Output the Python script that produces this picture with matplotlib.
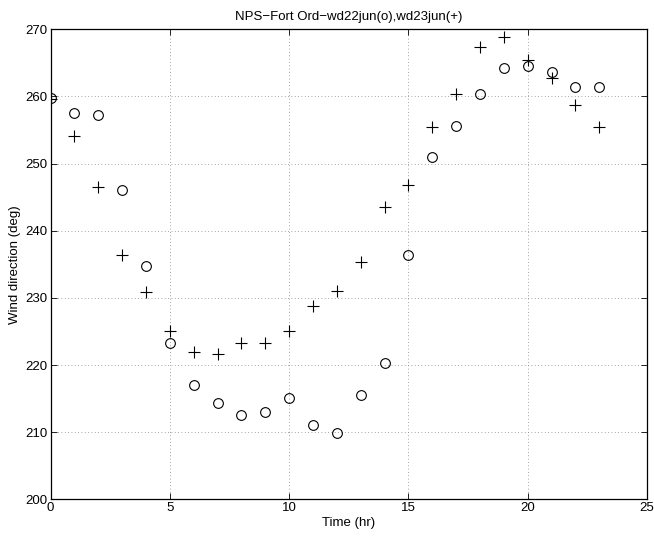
import matplotlib
matplotlib.use("Agg")
import matplotlib.pyplot as plt

hours = list(range(24))
wd22jun = [259.7, 257.6, 257.2, 246.1, 234.8, 223.3, 217.0, 214.4, 212.6, 213.0,
           215.1, 211.0, 209.8, 215.6, 220.3, 236.4, 251.0, 255.6, 260.4, 264.2,
           264.6, 263.6, 261.4, 261.4]
wd23jun = [259.6, 254.1, 246.5, 236.4, 230.8, 225.0, 221.9, 221.7, 223.3, 223.3,
           225.0, 228.8, 231.0, 235.3, 243.5, 246.8, 255.5, 260.3, 267.3, 268.8,
           265.4, 262.8, 258.7, 255.4]
xticks = [0, 5, 10, 15, 20, 25]
yticks = [200, 210, 220, 230, 240, 250, 260, 270]

plt.rcParams['font.family'] = ['Liberation Sans', 'DejaVu Sans']
plt.rcParams['font.size'] = 9.5

fig = plt.figure(figsize=(6.54, 5.37), dpi=100)
ax = fig.add_axes([50.5/654, (537-499.3)/537, 596.5/654, 470/537])

ax.plot(hours, wd22jun, linestyle='none', marker='o', markersize=7,
        markerfacecolor='none', markeredgecolor='black', markeredgewidth=0.8)
ax.plot(hours, wd23jun, linestyle='none', marker='+', markersize=8,
        color='black', markeredgewidth=0.8)

ax.set_xlim(0, 25)
ax.set_ylim(200, 270)
ax.set_xticks(xticks)
ax.set_yticks(yticks)
ax.grid(True, linestyle=(0, (1, 3)), color='#888888', linewidth=0.6)
ax.tick_params(direction='in', length=4, width=0.6, top=True, right=True, pad=2)
for s in ax.spines.values():
    s.set_linewidth(0.9)
ax.set_xlabel('Time (hr)', labelpad=2)
ax.set_ylabel('Wind direction (deg)', labelpad=3)
ax.set_title('NPS\u2212Fort Ord\u2212wd22jun(o),wd23jun(+)', fontsize=9.5, pad=7)

fig.savefig('out.png', dpi=100)
